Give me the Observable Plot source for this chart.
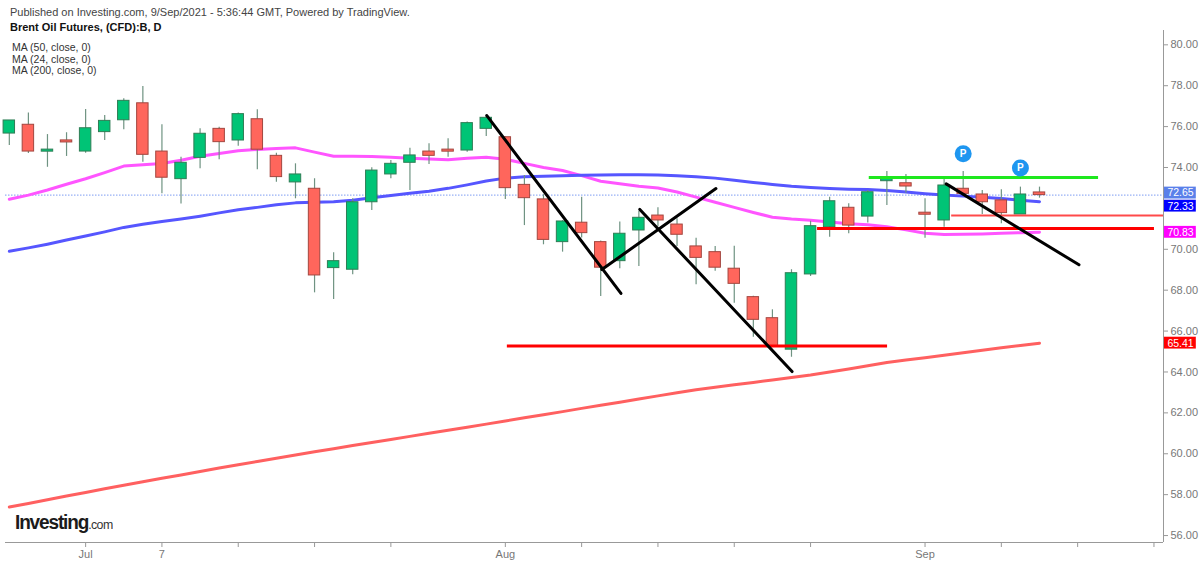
<!DOCTYPE html>
<html>
<head>
<meta charset="utf-8">
<script src="https://cdn.jsdelivr.net/npm/d3@7"></script>
<script src="https://cdn.jsdelivr.net/npm/@observablehq/plot@0.6"></script>
<style>
  html, body { margin: 0; padding: 0; background: #fff; }
  #wrap { position: relative; width: 1200px; height: 561px; overflow: hidden; font-family: "Liberation Sans", Arial, sans-serif; }
  #chart { position: absolute; left: 0; top: 0; }
  .hdr { position: absolute; white-space: nowrap; color: #333; }
  #pub { left: 10px; top: 6px; font-size: 11px; color: #444; }
  #ttl { left: 10px; top: 21px; font-size: 11px; font-weight: bold; color: #111; }
  .ma { left: 12px; font-size: 10.5px; color: #333; }
  #logo { left: 15px; top: 511px; font-size: 20px; font-weight: bold; color: #1b1b1b; letter-spacing: -1.2px; transform: scaleX(0.95); transform-origin: left center; }
  #logo span { font-weight: normal; font-size: 13px; letter-spacing: -0.6px; color: #333; }
</style>
</head>
<body>
<div id="wrap">
  <div id="chart"></div>
  <div class="hdr" id="pub">Published on Investing.com, 9/Sep/2021 - 5:36:44 GMT, Powered by TradingView.</div>
  <div class="hdr" id="ttl">Brent Oil Futures, (CFD):B, D</div>
  <div class="hdr ma" style="top:41px">MA (50, close, 0)</div>
  <div class="hdr ma" style="top:53px">MA (24, close, 0)</div>
  <div class="hdr ma" style="top:64px">MA (200, close, 0)</div>
  <div class="hdr" id="logo">Investing<span>.com</span></div>
</div>
<script>
// ---- data ----
const dates = ["Jun 25","Jun 28","Jun 29","Jun 30","Jul 1","Jul 2","Jul 5","Jul 6","Jul 7","Jul 8","Jul 9","Jul 12","Jul 13","Jul 14","Jul 15","Jul 16","Jul 19","Jul 20","Jul 21","Jul 22","Jul 23","Jul 26","Jul 27","Jul 28","Jul 29","Jul 30","Aug 2","Aug 3","Aug 4","Aug 5","Aug 6","Aug 9","Aug 10","Aug 11","Aug 12","Aug 13","Aug 16","Aug 17","Aug 18","Aug 19","Aug 20","Aug 23","Aug 24","Aug 25","Aug 26","Aug 27","Aug 30","Aug 31","Sep 1","Sep 2","Sep 3","Sep 6","Sep 7","Sep 8","Sep 9"];
const opens  = [75.66,76.09,74.80,75.30,74.78,75.73,76.31,77.14,74.78,73.43,74.47,75.89,75.32,76.36,74.57,73.27,72.96,69.08,69.00,72.30,73.66,74.23,74.78,74.85,74.83,75.89,75.48,73.15,72.44,70.35,71.30,70.35,69.42,70.92,71.65,71.21,70.14,69.86,69.05,67.66,66.63,65.09,68.77,71.08,72.03,71.60,73.33,73.23,71.76,71.41,72.96,72.68,72.39,71.70,72.78];
const highs  = [76.30,76.67,75.61,75.70,76.84,76.54,77.36,77.96,76.09,74.50,75.89,75.97,76.67,76.82,74.70,74.18,73.45,69.83,72.47,73.99,74.34,74.94,75.16,75.40,76.22,76.54,75.50,73.61,72.67,71.40,72.55,70.40,71.33,71.86,72.03,71.49,70.54,70.14,70.15,67.70,67.04,69.00,71.37,72.55,72.23,72.88,73.80,73.66,72.47,73.56,73.80,72.88,72.91,73.04,73.04];
const lows   = [75.08,74.68,74.01,74.54,74.70,75.32,75.84,74.26,72.71,72.22,73.94,74.38,75.04,73.89,73.28,72.47,67.87,67.55,68.75,71.90,73.45,72.88,74.15,74.50,74.75,75.52,72.44,71.16,70.22,69.86,70.55,67.69,69.05,69.16,71.10,70.14,68.26,68.93,67.36,65.70,65.20,64.72,68.67,70.59,70.76,71.28,72.14,72.74,70.54,71.08,72.70,71.70,71.25,71.70,72.50];
const closes = [76.30,74.78,74.85,75.25,75.92,76.28,77.26,74.62,73.50,74.23,75.65,75.24,76.61,74.87,73.53,73.66,68.72,69.42,72.30,73.85,74.18,74.59,74.57,74.80,76.17,76.43,72.99,72.50,70.46,71.36,70.79,69.10,70.76,71.54,71.41,70.71,69.58,69.10,68.31,66.55,65.26,68.83,71.13,72.35,71.16,72.79,73.50,73.07,71.72,73.12,72.71,72.30,71.77,72.68,72.65];
const ma50  = [69.90,70.07,70.25,70.45,70.65,70.85,71.07,71.22,71.36,71.48,71.62,71.78,71.93,72.05,72.18,72.27,72.30,72.33,72.40,72.52,72.63,72.74,72.84,72.98,73.15,73.34,73.48,73.55,73.57,73.60,73.62,73.63,73.64,73.64,73.63,73.60,73.55,73.48,73.38,73.27,73.17,73.08,73.02,72.97,72.94,72.92,72.88,72.80,72.72,72.66,72.60,72.55,72.48,72.40,72.33];
const ma24  = [72.45,72.65,72.90,73.18,73.45,73.75,74.07,74.13,74.20,74.35,74.55,74.68,74.82,74.88,74.93,74.96,74.75,74.55,74.55,74.54,74.50,74.45,74.42,74.38,74.45,74.50,74.40,74.20,74.00,73.85,73.60,73.33,73.20,73.08,73.00,72.80,72.55,72.30,72.05,71.80,71.57,71.48,71.42,71.33,71.25,71.20,71.10,70.95,70.78,70.72,70.73,70.75,70.78,70.81,70.83];
const ma200 = [57.40,57.57,57.75,57.93,58.11,58.29,58.46,58.63,58.80,58.96,59.13,59.30,59.46,59.62,59.78,59.94,60.10,60.25,60.40,60.55,60.70,60.85,61.00,61.15,61.30,61.45,61.60,61.76,61.91,62.06,62.22,62.37,62.52,62.68,62.83,62.98,63.13,63.25,63.37,63.49,63.61,63.73,63.85,64.00,64.15,64.30,64.46,64.58,64.70,64.82,64.94,65.06,65.18,65.30,65.41];

// y ticks; the 72.00 label is hidden behind the price tags in the reference
const yTicks = [56,58,60,62,64,66,68,70,72,74,76,78,80];
const yTickLabels = ["56.00","58.00","60.00","62.00","64.00","66.00","68.00","70.00","","74.00","76.00","78.00","80.00"];
const xTickIdx = [4,8,12,16,20,26,30,34,38,42,48,52,56,60];
const xTickLabels = ["Jul","7","","","","Aug","","","","","Sep","","",""];

// drawn annotations (bar index, price)
const trendLines = [
  {x1:25.03, y1:76.54, x2:32.06, y2:67.84},
  {x1:31.06, y1:69.01, x2:37.04, y2:72.97},
  {x1:33.05, y1:71.95, x2:41.03, y2:64.02},
  {x1:49.11, y1:73.20, x2:56.07, y2:69.24}
];
const levelsThick = [
  {x1:26.08, x2:46.01, y:65.27, color:"#ff0000"},
  {x1:42.34, x2:60.00, y:71.02, color:"#ff0000"},
  {x1:45.05, x2:57.07, y:73.51, color:"#1ee81e"}
];
const levelsThin = [
  {x1:49.37, x2:60.50, y:71.65, color:"#ff4a4a"}
];
const pivots = [{i:50, y:74.67}, {i:53, y:73.98}];
const priceTags = [
  {value:72.65, bg:"#5a80ea", nudge:0.1},
  {value:72.33, bg:"#0000ff", nudge:-0.22},
  {value:70.83, bg:"#ff00ff", nudge:0},
  {value:65.41, bg:"#ff0000", nudge:0}
];
const lastClose = closes[closes.length - 1];

// ---- build table ----
const bars = dates.map((d, i) => ({
  i, date: d, open: opens[i], high: highs[i], low: lows[i], close: closes[i],
  ma50: ma50[i], ma24: ma24[i], ma200: ma200[i]
}));
const up = "#00c476", down = "#ff665c";
const upEdge = "#2f7d55", downEdge = "#a3463f";
const bodyLo = d => { const lo = Math.min(d.open, d.close), hi = Math.max(d.open, d.close); return hi - lo < 0.1 ? (lo + hi) / 2 - 0.05 : lo; };
const bodyHi = d => { const lo = Math.min(d.open, d.close), hi = Math.max(d.open, d.close); return hi - lo < 0.1 ? (lo + hi) / 2 + 0.05 : hi; };

const xMin = -0.2, xMax = 60.5, yMin = 55.66, yMax = 80.70;
const xLabel = new Map(xTickIdx.map((t, k) => [t, xTickLabels[k]]));
const yLabel = new Map(yTicks.map((t, k) => [t, yTickLabels[k]]));

const chart = Plot.plot({
  width: 1200,
  height: 561,
  marginLeft: 5,
  marginRight: 37,
  marginTop: 30,
  marginBottom: 19,
  style: {fontFamily: "'Liberation Sans', Arial, sans-serif", fontSize: "11px", color: "#777", background: "transparent"},
  x: {type: "linear", domain: [xMin, xMax]},
  y: {domain: [yMin, yMax]},
  marks: [
    Plot.ruleY([lastClose], {stroke: "#7d9cf2", strokeWidth: 1, strokeDasharray: "1.5,1.5"}),
    Plot.line(bars, {x: "i", y: "ma200", stroke: "#ff6060", strokeWidth: 3}),
    Plot.line(bars, {x: "i", y: "ma24", stroke: "#ff55ff", strokeWidth: 3}),
    Plot.line(bars, {x: "i", y: "ma50", stroke: "#5656ff", strokeWidth: 3}),
    Plot.ruleX(bars, {x: "i", y1: "low", y2: "high", stroke: "#6f9382", strokeWidth: 1.2}),
    Plot.rect(bars, {
      x1: d => d.i - 0.3, x2: d => d.i + 0.3, y1: bodyLo, y2: bodyHi,
      fill: d => d.close >= d.open ? up : down,
      stroke: d => d.close >= d.open ? upEdge : downEdge, strokeWidth: 1
    }),
    Plot.link(levelsThin, {x1: "x1", x2: "x2", y1: "y", y2: "y", stroke: d => d.color, strokeWidth: 2}),
    Plot.link(levelsThick, {x1: "x1", x2: "x2", y1: "y", y2: "y", stroke: d => d.color, strokeWidth: 3}),
    Plot.link(trendLines, {x1: "x1", y1: "y1", x2: "x2", y2: "y2", stroke: "#000", strokeWidth: 3, strokeLinecap: "round"}),
    Plot.dot(pivots, {x: "i", y: "y", r: 8.5, fill: "#1e96f0"}),
    Plot.text(pivots, {x: "i", y: "y", text: () => "P", fill: "white", fontWeight: "bold", fontSize: 10}),
    Plot.axisY({anchor: "right", ticks: yTicks, tickFormat: d => yLabel.get(d) ?? "", tickSize: 4, tickPadding: 3, fontSize: 11, stroke: "#999"}),
    Plot.axisX({anchor: "bottom", ticks: xTickIdx, tickFormat: d => xLabel.get(d) ?? "", tickSize: 5, tickPadding: 3, fontSize: 11, stroke: "#999"}),
    Plot.ruleX([xMax], {stroke: "#999", strokeWidth: 1}),
    Plot.ruleY([yMin], {stroke: "#999", strokeWidth: 1}),
    Plot.rect(priceTags, {x1: xMax + 0.05, x2: xMax + 1.72, y1: d => d.value + d.nudge - 0.29, y2: d => d.value + d.nudge + 0.29, fill: d => d.bg}),
    Plot.text(priceTags, {x: xMax + 0.1, y: d => d.value + d.nudge, text: d => d.value.toFixed(2), textAnchor: "start", dx: 2, fill: "white", fontSize: 10.5})
  ]
});
document.getElementById("chart").appendChild(chart);
</script>
</body>
</html>
